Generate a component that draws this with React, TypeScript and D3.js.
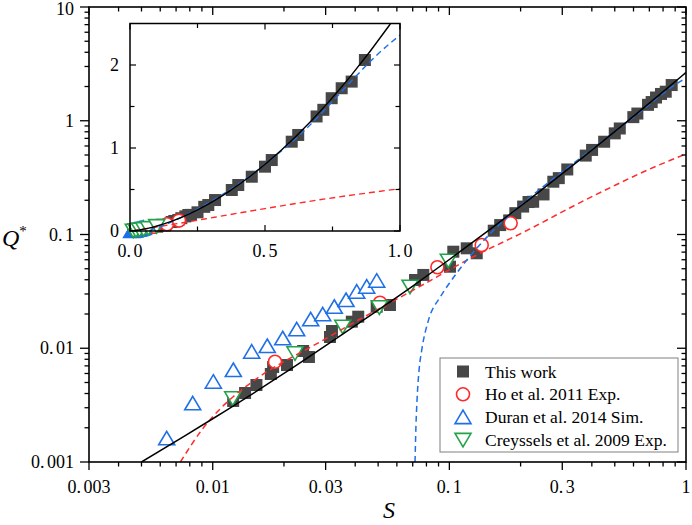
import { useEffect, useRef } from 'react';
import * as d3 from 'd3';

// "This work" data points
const thisWorkS = [0.0122, 0.0137, 0.0153, 0.0176, 0.018, 0.0206, 0.0241, 0.0255, 0.0313, 0.0319, 0.0387, 0.0412, 0.0493, 0.0561, 0.0716, 0.0776, 0.1006, 0.1039, 0.1184, 0.1305, 0.154, 0.164, 0.179, 0.19, 0.205, 0.216, 0.226, 0.25, 0.275, 0.29, 0.315, 0.377, 0.401, 0.451, 0.5, 0.525, 0.599, 0.623, 0.691, 0.716, 0.747, 0.784, 0.821, 0.87];
const thisWorkQ = [0.00344, 0.00404, 0.00475, 0.00594, 0.00684, 0.00712, 0.00946, 0.00838, 0.01256, 0.01418, 0.01712, 0.01894, 0.02318, 0.024, 0.0398, 0.0441, 0.0521, 0.0706, 0.0756, 0.0684, 0.108, 0.121, 0.133, 0.154, 0.176, 0.193, 0.194, 0.225, 0.291, 0.313, 0.373, 0.494, 0.554, 0.654, 0.775, 0.855, 1.076, 1.157, 1.38, 1.46, 1.6, 1.72, 1.8, 2.06];

const hoS = [0.01833, 0.0509, 0.089, 0.137, 0.1816];
const hoQ = [0.00762, 0.02514, 0.0515, 0.0809, 0.1255];

const duranS = [0.00639, 0.00823, 0.01006, 0.01222, 0.01461, 0.017, 0.01976, 0.02264, 0.02594, 0.02916, 0.03264, 0.03658, 0.04059, 0.04474, 0.04931];
const duranQ = [0.001616, 0.00328, 0.00508, 0.00644, 0.00933, 0.01047, 0.01224, 0.01468, 0.01797, 0.01988, 0.02318, 0.02655, 0.03142, 0.03477, 0.03925];

const creyS = [0.01215, 0.02226, 0.03543, 0.0506, 0.0682, 0.099];
const creyQ = [0.00363, 0.00903, 0.01547, 0.0229, 0.03477, 0.0588];

// model curves
const fitS = [0.005, 0.0075, 0.01, 0.02, 0.04, 0.07, 0.1, 0.15, 0.22, 0.3, 0.36, 0.45, 0.56, 0.67, 0.82, 0.96, 1.0];
const fitQ = [0.001, 0.00166, 0.0024, 0.006, 0.0158, 0.0352, 0.0603, 0.1128, 0.207, 0.343, 0.463, 0.672, 0.973, 1.323, 1.878, 2.476, 2.661];

const redS = [0.0073, 0.0091, 0.0122, 0.0144, 0.0293, 0.0419, 0.0682, 0.1305, 0.2192, 0.3133, 0.5, 0.7, 1.0];
const redQ = [0.001, 0.00198, 0.00375, 0.00492, 0.0118, 0.018, 0.0313, 0.066, 0.112, 0.166, 0.27, 0.375, 0.51];

const blueS = [0.0716, 0.0722, 0.073, 0.0745, 0.0764, 0.0815, 0.0913, 0.1, 0.1074, 0.1185, 0.1392, 0.2053, 0.2842, 0.3566, 0.5989, 0.959, 1.0];
const blueQ = [0.001, 0.002, 0.0035, 0.0065, 0.0096, 0.0175, 0.028, 0.0373, 0.0458, 0.0596, 0.0878, 0.1892, 0.3266, 0.4677, 1.07, 2.25, 2.36];

const xTickValues = [0.003, 0.01, 0.03, 0.1, 0.3, 1];
const xTickLabels = ['0.003', '0.01', '0.03', '0.1', '0.3', '1'];
const yTickValues = [0.001, 0.01, 0.1, 1, 10];
const yTickLabels = ['0.001', '0.01', '0.1', '1', '10'];
const insetXTicks = [0, 0.5, 1];
const insetXLabels = ['0.0', '0.5', '1.0'];
const insetXMinor = [0.25, 0.75];
const insetYTicks = [0, 1, 2];
const insetYLabels = ['0', '1', '2'];
const insetYMinor = [0.5, 1.5];

const legendLabels = ['This work', 'Ho et al. 2011 Exp.', 'Duran et al. 2014 Sim.', 'Creyssels et al. 2009 Exp.'];

const FONT = 'Liberation Serif, DejaVu Serif, Times New Roman, serif';
const SQUARE = '#474747';
const RED = '#ff2b2b';
const BLUE = '#1f6fe6';
const GREEN = '#22a24a';

type Sel = d3.Selection<SVGGElement, unknown, null, undefined>;

function marker(g: Sel, cx: number, cy: number, kind: string) {
	if (kind === 'square') {
		g.append('rect')
			.attr('x', cx - 6)
			.attr('y', cy - 6)
			.attr('width', 12)
			.attr('height', 12)
			.attr('fill', SQUARE);
	} else if (kind === 'circle') {
		g.append('circle')
			.attr('cx', cx)
			.attr('cy', cy)
			.attr('r', 6.5)
			.attr('fill', '#fff')
			.attr('stroke', RED)
			.attr('stroke-width', 1.6);
	} else {
		const up = kind === 'up';
		const d = up ? 'M0,-7L8,6.5L-8,6.5Z' : 'M0,7L8,-6.5L-8,-6.5Z';
		g.append('path')
			.attr('d', d)
			.attr('transform', `translate(${cx},${cy})`)
			.attr('fill', '#fff')
			.attr('stroke', up ? BLUE : GREEN)
			.attr('stroke-width', 1.6);
	}
}

function label(g: Sel, x: number, y: number, txt: string, anchor: string, size: number) {
	const t = g.append('text')
		.attr('x', x)
		.attr('y', y)
		.attr('text-anchor', anchor)
		.attr('font-family', FONT)
		.attr('font-size', size)
		.attr('fill', '#000');
	const i = txt.indexOf('.');
	if (i < 0) {
		t.text(txt);
	} else {
		t.append('tspan').text(txt.slice(0, i + 1));
		t.append('tspan').attr('dx', 2.5).text(txt.slice(i + 1));
	}
}

export default function App() {
	const svgRef = useRef<SVGSVGElement>(null);

	useEffect(() => {
		if (!svgRef.current) return;
		const svg = d3.select(svgRef.current);
		svg.selectAll('*').remove();

		const L = 89, R = 686, T = 7, B = 462;
		const x = d3.scaleLog().domain([0.003, 1]).range([L, R]);
		const y = d3.scaleLog().domain([0.001, 10]).range([B, T]);

		const iL = 130, iR = 400, iT = 23.5, iB = 231;
		const ix = d3.scaleLinear().domain([0, 1]).range([iL, iR]);
		const iy = d3.scaleLinear().domain([0, 2.5]).range([iB, iT]);

		const defs = svg.append('defs');
		defs.append('clipPath').attr('id', 'mainClip')
			.append('rect').attr('x', L).attr('y', T).attr('width', R - L).attr('height', B - T);
		defs.append('clipPath').attr('id', 'insetClip')
			.append('rect').attr('x', iL).attr('y', iT).attr('width', iR - iL).attr('height', iB - iT);

		const root = svg.append('g') as unknown as Sel;

		const series = [
			{ s: thisWorkS, q: thisWorkQ, kind: 'square' },
			{ s: hoS, q: hoQ, kind: 'circle' },
			{ s: duranS, q: duranQ, kind: 'up' },
			{ s: creyS, q: creyQ, kind: 'down' },
		];
		const curves = [
			{ s: redS, q: redQ, color: RED, dash: '6,4' },
			{ s: blueS, q: blueQ, color: BLUE, dash: '6,4' },
			{ s: fitS, q: fitQ, color: '#000', dash: null },
		];

		// ---- main plot ----
		const mainMarks = root.append('g');
		series.forEach((sr) => {
			sr.s.forEach((v, i) => marker(mainMarks, x(v), y(sr.q[i]), sr.kind));
		});

		const mainLines = root.append('g').attr('clip-path', 'url(#mainClip)');
		curves.forEach((c) => {
			const pts = c.s.map((v, i) => [x(v), y(c.q[i])] as [number, number]);
			const p = mainLines.append('path')
				.attr('d', d3.line().curve(d3.curveMonotoneX)(pts) ?? '')
				.attr('fill', 'none')
				.attr('stroke', c.color)
				.attr('stroke-width', 1.5);
			if (c.dash) p.attr('stroke-dasharray', c.dash);
		});

		// frame and ticks
		root.append('rect')
			.attr('x', L).attr('y', T).attr('width', R - L).attr('height', B - T)
			.attr('fill', 'none').attr('stroke', '#000').attr('stroke-width', 1.6);

		const ticks = root.append('g').attr('stroke', '#000').attr('stroke-width', 1.3);
		x.ticks().forEach((t) => {
			const major = xTickValues.some((v) => Math.abs(v - t) / v < 1e-6);
			const len = major ? 8 : 4.5;
			ticks.append('line').attr('x1', x(t)).attr('x2', x(t)).attr('y1', B).attr('y2', B + len);
			ticks.append('line').attr('x1', x(t)).attr('x2', x(t)).attr('y1', T).attr('y2', T + len);
		});
		y.ticks().forEach((t) => {
			const major = yTickValues.some((v) => Math.abs(v - t) / v < 1e-6);
			const len = major ? 9 : 4.5;
			ticks.append('line').attr('x1', L).attr('x2', L - len).attr('y1', y(t)).attr('y2', y(t));
			ticks.append('line').attr('x1', R).attr('x2', R - len).attr('y1', y(t)).attr('y2', y(t));
		});

		xTickValues.forEach((v, i) => label(root, x(v), 493, xTickLabels[i], 'middle', 18));
		yTickValues.forEach((v, i) => label(root, 74, Math.max(y(v) + 6, 15), yTickLabels[i], 'end', 18));

		// axis titles
		root.append('text')
			.attr('x', 389).attr('y', 518)
			.attr('text-anchor', 'middle')
			.attr('font-family', FONT).attr('font-size', 24).attr('font-style', 'italic')
			.text('S');
		const qt = root.append('text')
			.attr('x', 2).attr('y', 246)
			.attr('font-family', FONT).attr('font-size', 24);
		qt.append('tspan').attr('font-style', 'italic').text('Q');
		qt.append('tspan').attr('dy', -10).attr('font-size', 15).text('*');

		// ---- inset ----
		const inset = root.append('g') as unknown as Sel;
		inset.append('rect')
			.attr('x', iL).attr('y', iT).attr('width', iR - iL).attr('height', iB - iT)
			.attr('fill', '#fff');

		const insetMarks = inset.append('g');
		series.forEach((sr) => {
			sr.s.forEach((v, i) => marker(insetMarks, ix(v), iy(sr.q[i]), sr.kind));
		});

		const insetLines = inset.append('g').attr('clip-path', 'url(#insetClip)');
		curves.forEach((c) => {
			const pts = c.s.map((v, i) => [ix(v), iy(c.q[i])] as [number, number]);
			const p = insetLines.append('path')
				.attr('d', d3.line().curve(d3.curveMonotoneX)(pts) ?? '')
				.attr('fill', 'none')
				.attr('stroke', c.color)
				.attr('stroke-width', 1.4);
			if (c.dash) p.attr('stroke-dasharray', c.dash);
		});

		inset.append('rect')
			.attr('x', iL).attr('y', iT).attr('width', iR - iL).attr('height', iB - iT)
			.attr('fill', 'none').attr('stroke', '#000').attr('stroke-width', 1.5);

		const iticks = inset.append('g').attr('stroke', '#000').attr('stroke-width', 1.2);
		[...insetXTicks, ...insetXMinor].forEach((t) => {
			const len = insetXTicks.includes(t) ? 6 : 4.5;
			iticks.append('line').attr('x1', ix(t)).attr('x2', ix(t)).attr('y1', iB).attr('y2', iB - len);
			iticks.append('line').attr('x1', ix(t)).attr('x2', ix(t)).attr('y1', iT).attr('y2', iT + len);
		});
		[...insetYTicks, ...insetYMinor].forEach((t) => {
			const len = insetYTicks.includes(t) ? 6 : 4.5;
			iticks.append('line').attr('x1', iL).attr('x2', iL + len).attr('y1', iy(t)).attr('y2', iy(t));
			iticks.append('line').attr('x1', iR).attr('x2', iR - len).attr('y1', iy(t)).attr('y2', iy(t));
		});
		insetXTicks.forEach((v, i) => label(inset, ix(v), 257, insetXLabels[i], 'middle', 18));
		insetYTicks.forEach((v, i) => label(inset, 119, iy(v) + 6, insetYLabels[i], 'end', 18));

		// ---- legend ----
		const lg = root.append('g') as unknown as Sel;
		lg.append('rect')
			.attr('x', 440).attr('y', 358).attr('width', 238).attr('height', 94)
			.attr('fill', '#fff').attr('stroke', '#808080').attr('stroke-width', 1);
		const kinds = ['square', 'circle', 'up', 'down'];
		legendLabels.forEach((txt, i) => {
			const cy = 371.5 + i * 22.8;
			marker(lg, 463, cy, kinds[i]);
			lg.append('text')
				.attr('x', 485).attr('y', cy + 6)
				.attr('font-family', FONT).attr('font-size', 17.5)
				.text(txt);
		});
	}, []);

	return (
		<svg
			ref={svgRef}
			width={692}
			height={525}
			style={{ position: 'absolute', left: 0, top: 0, background: '#fff' }}
		></svg>
	);
}
